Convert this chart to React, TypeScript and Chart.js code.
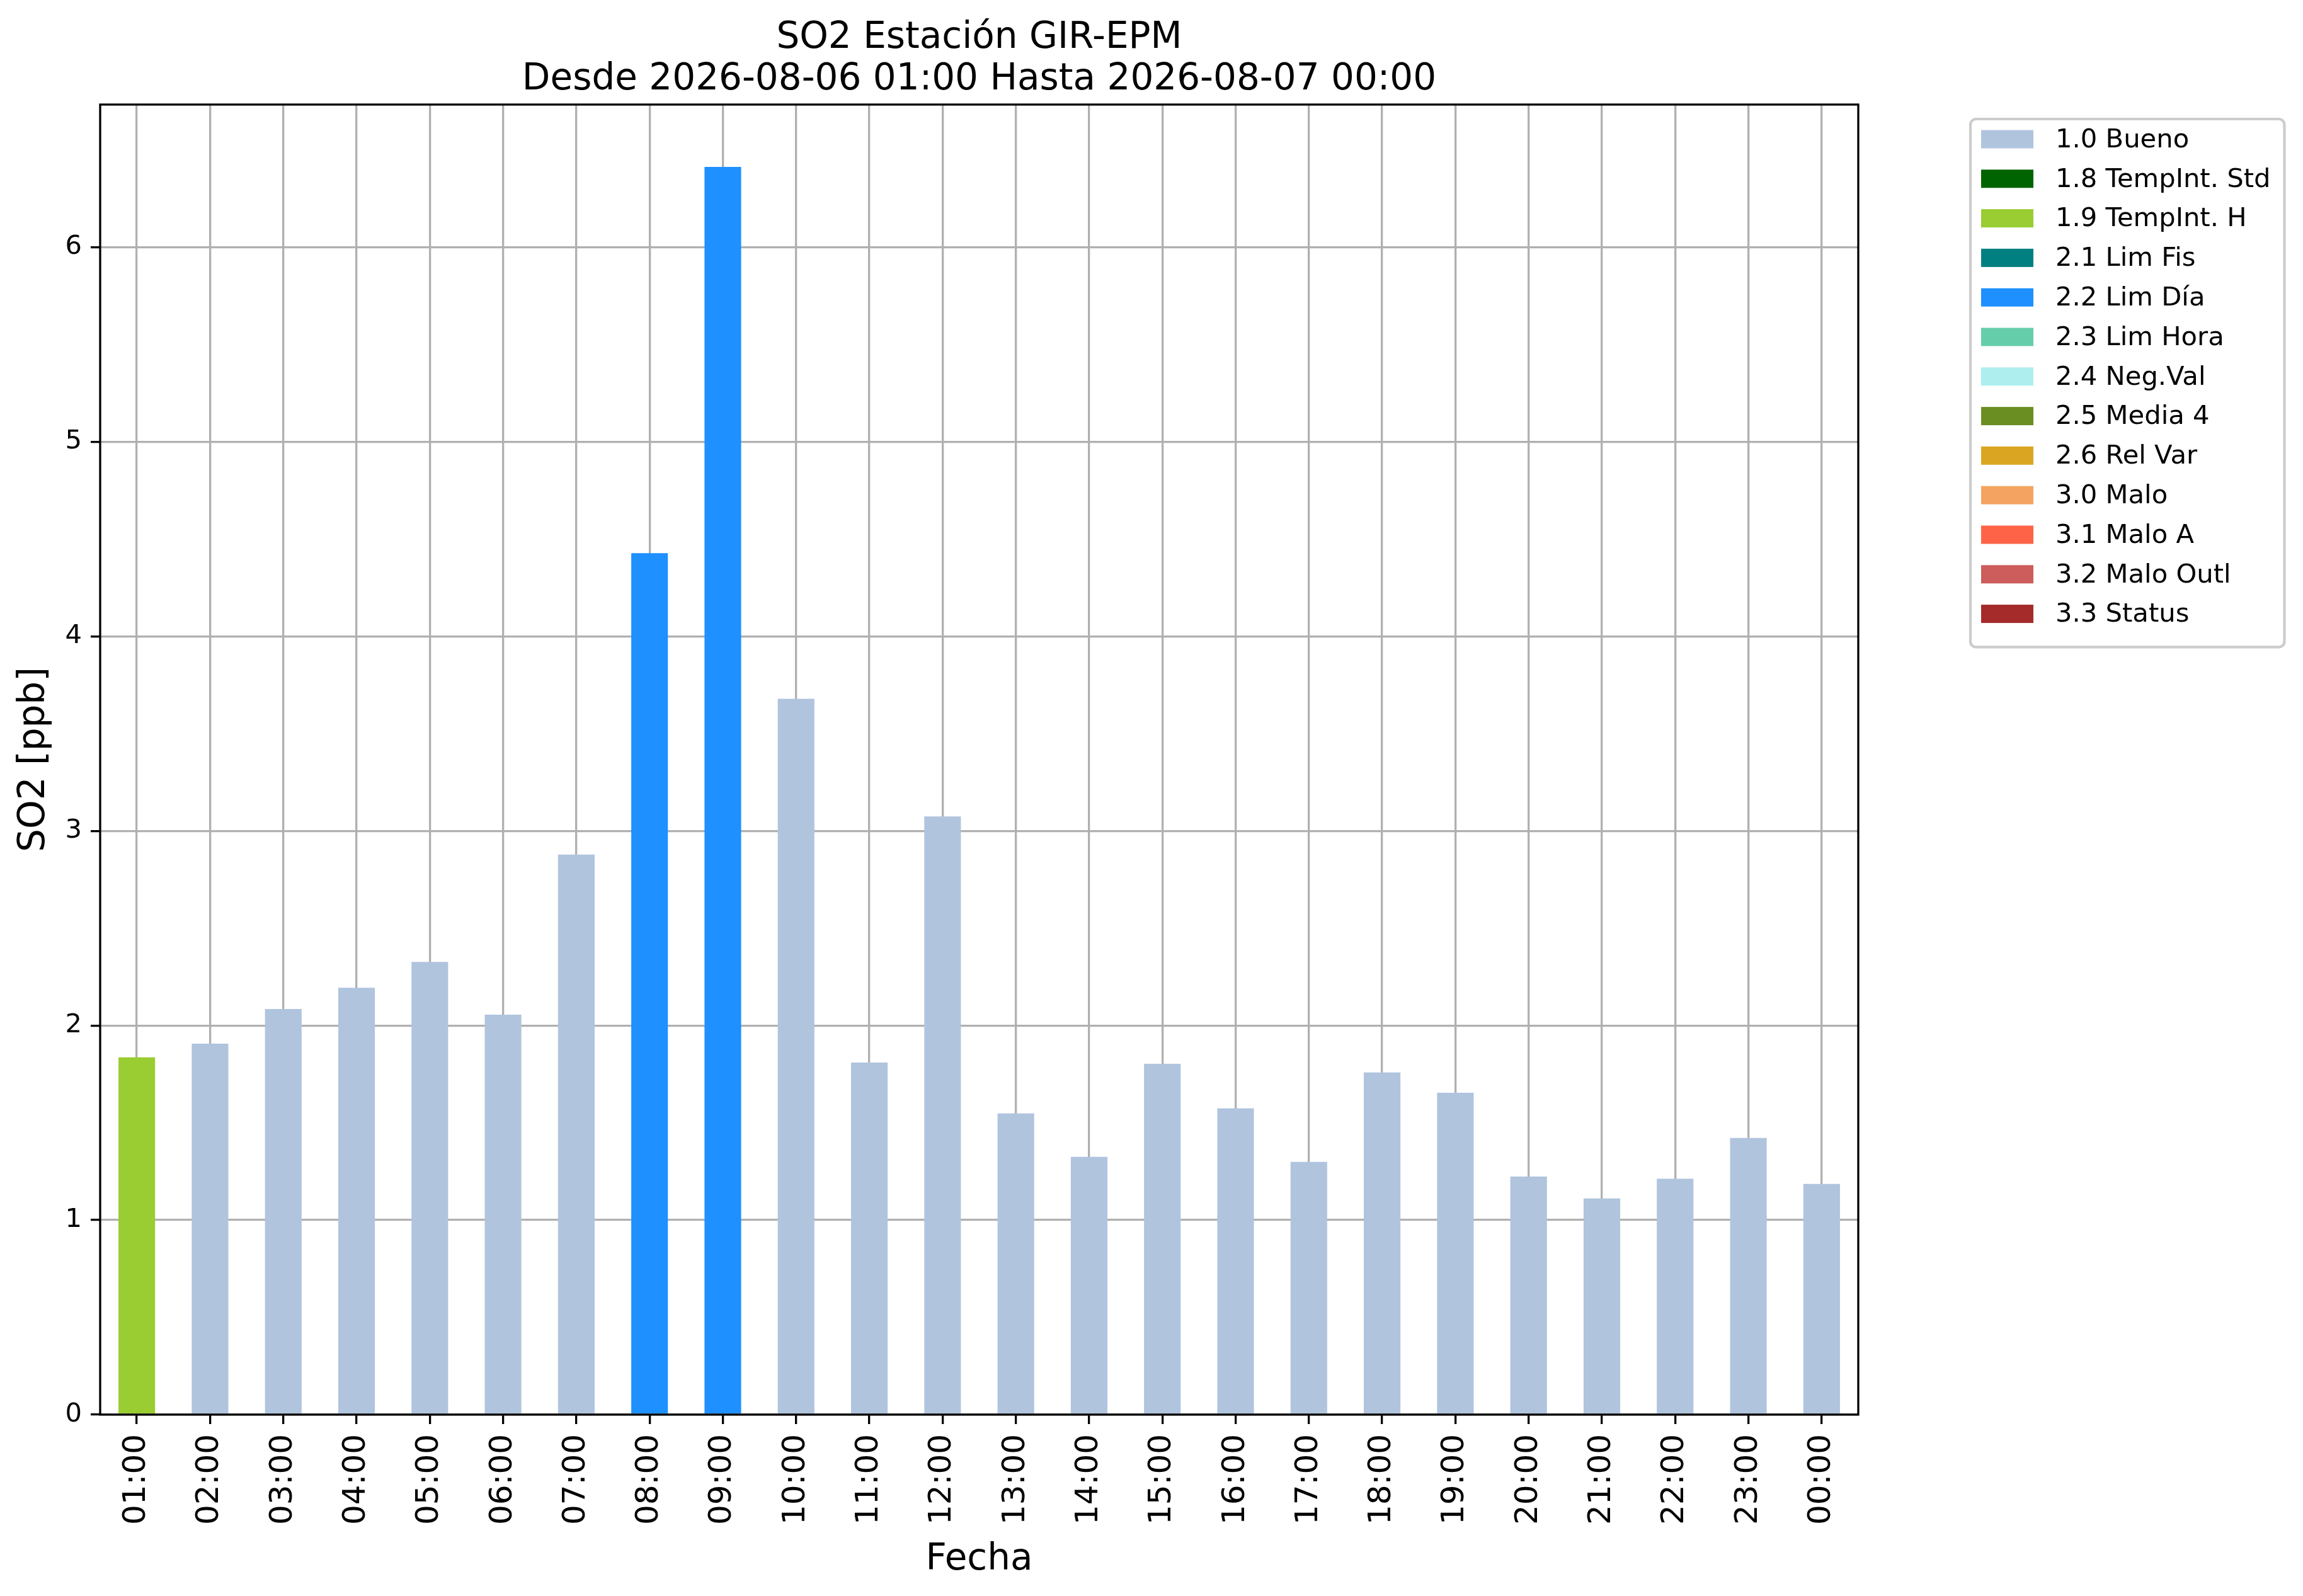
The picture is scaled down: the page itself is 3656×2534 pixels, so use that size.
import { useEffect, useRef } from "react";
import { Chart, registerables } from "chart.js";

Chart.register(...registerables);

const horas = [
  "01:00", "02:00", "03:00", "04:00", "05:00", "06:00", "07:00", "08:00",
  "09:00", "10:00", "11:00", "12:00", "13:00", "14:00", "15:00", "16:00",
  "17:00", "18:00", "19:00", "20:00", "21:00", "22:00", "23:00", "00:00",
];
const valores = [
  1.836, 1.907, 2.085, 2.194, 2.327, 2.056, 2.879, 4.428,
  6.413, 3.679, 1.81, 3.075, 1.548, 1.325, 1.803, 1.574,
  1.299, 1.759, 1.654, 1.224, 1.111, 1.212, 1.422, 1.186,
];
const banderas = [
  "1.9", "1.0", "1.0", "1.0", "1.0", "1.0", "1.0", "2.2",
  "2.2", "1.0", "1.0", "1.0", "1.0", "1.0", "1.0", "1.0",
  "1.0", "1.0", "1.0", "1.0", "1.0", "1.0", "1.0", "1.0",
];
const categorias = [
  "1.0 Bueno", "1.8 TempInt. Std", "1.9 TempInt. H", "2.1 Lim Fis",
  "2.2 Lim Día", "2.3 Lim Hora", "2.4 Neg.Val", "2.5 Media 4",
  "2.6 Rel Var", "3.0 Malo", "3.1 Malo A", "3.2 Malo Outl", "3.3 Status",
];
const colores = [
  "#B0C4DE", "#006400", "#9ACD32", "#008080", "#1E90FF", "#66CDAA", "#AFEEEE",
  "#6B8E23", "#DAA520", "#F4A460", "#FF6347", "#CD5C5C", "#A52A2A",
];
const titulo = ["SO2 Estación GIR-EPM", "Desde 2026-08-06 01:00 Hasta 2026-08-07 00:00"];

const FONT = "'DejaVu Sans', sans-serif";

// title, frame and legend box drawn like matplotlib
const decor = {
  id: "decor",
  afterDraw(chart: any) {
    const { ctx, chartArea } = chart;
    ctx.save();

    // spines
    ctx.strokeStyle = "#000";
    ctx.lineWidth = 3.3;
    ctx.strokeRect(chartArea.left, chartArea.top, chartArea.right - chartArea.left, chartArea.bottom - chartArea.top);

    // title
    const cx = (chartArea.left + chartArea.right) / 2;
    ctx.fillStyle = "#000";
    ctx.font = `58px ${FONT}`;
    ctx.textAlign = "center";
    ctx.textBaseline = "alphabetic";
    ctx.fillText(titulo[0], cx, 76);
    ctx.fillText(titulo[1], cx, 142);

    // legend
    const fs = 41.7;
    ctx.font = `${fs}px ${FONT}`;
    const left = chartArea.right + 178;
    const top = chartArea.top + 23;
    const rowH = 62.8;
    const textX = left + 135;
    const ds = chart.data.datasets;
    let maxW = 0;
    ds.forEach((d: any) => { maxW = Math.max(maxW, ctx.measureText(d.label).width); });
    const w = textX - left + maxW + 22;
    const h = rowH * ds.length + 22;
    ctx.beginPath();
    ctx.roundRect(left, top, w, h, 9);
    ctx.fillStyle = "rgba(255,255,255,0.8)";
    ctx.fill();
    ctx.strokeStyle = "#cccccc";
    ctx.lineWidth = 4.2;
    ctx.stroke();
    ctx.textAlign = "left";
    ctx.textBaseline = "middle";
    ds.forEach((d: any, i: number) => {
      const cy = top + 32 + i * rowH;
      ctx.fillStyle = d.backgroundColor;
      ctx.fillRect(left + 17, cy - 14.5, 83, 29);
      ctx.fillStyle = "#000";
      ctx.fillText(d.label, textX, cy + 2);
    });
    ctx.restore();
  },
};

export default function App() {
  const chartRef = useRef<HTMLCanvasElement>(null);
  const chartInstance = useRef<Chart | null>(null);

  useEffect(() => {
    if (chartRef.current) {
      const ctx = chartRef.current.getContext("2d");
      if (ctx) {
        if (chartInstance.current) {
          chartInstance.current.destroy();
        }

        const datasets = categorias.map((cat, i) => {
          const codigo = cat.split(" ")[0];
          return {
            label: cat,
            data: valores.map((v, j) => (banderas[j] === codigo ? v : null)),
            backgroundColor: colores[i],
            borderWidth: 0,
            barPercentage: 0.5,
            categoryPercentage: 1.0,
          };
        });

        chartInstance.current = new Chart(ctx, {
          type: "bar",
          data: { labels: horas, datasets },
          options: {
            responsive: true,
            maintainAspectRatio: false,
            animation: false,
            layout: { padding: { top: 166, right: 706, left: 0, bottom: 0 } },
            plugins: {
              legend: { display: false },
              title: { display: false },
              tooltip: { enabled: false },
            },
            scales: {
              x: {
                stacked: true,
                z: 1,
                afterFit: (scale: any) => { scale.height = 288; },
                grid: {
                  offset: false,
                  color: "#b0b0b0",
                  lineWidth: 3.3,
                  tickColor: "#000",
                  tickWidth: 3.3,
                  tickLength: 15,
                },
                border: { display: false },
                ticks: {
                  autoSkip: false,
                  maxRotation: 90,
                  minRotation: 90,
                  padding: 16,
                  color: "#000",
                  font: { family: FONT, size: 50 },
                },
                title: {
                  display: true,
                  text: "Fecha",
                  color: "#000",
                  font: { family: FONT, size: 58 },
                  padding: { top: 0, bottom: 22 },
                },
              },
              y: {
                stacked: true,
                z: 1,
                min: 0,
                max: Math.max(...valores) * 1.05,
                afterFit: (scale: any) => { scale.width = 159; },
                grid: {
                  color: "#b0b0b0",
                  lineWidth: 3.3,
                  tickColor: "#000",
                  tickWidth: 3.3,
                  tickLength: 15,
                },
                border: { display: false },
                ticks: {
                  stepSize: 1,
                  includeBounds: false,
                  padding: 14,
                  color: "#000",
                  font: { family: FONT, size: 41.7 },
                },
                title: {
                  display: true,
                  text: "SO2 [ppb]",
                  color: "#000",
                  font: { family: FONT, size: 58 },
                  padding: { top: 20, bottom: 0 },
                },
              },
            },
          },
          plugins: [decor],
        });
      }
    }

    return () => {
      if (chartInstance.current) {
        chartInstance.current.destroy();
        chartInstance.current = null;
      }
    };
  }, []);

  return (
    <div style={{ position: "fixed", left: 0, top: 0, width: 3656, height: 2534, background: "#fff" }}>
      <canvas ref={chartRef}></canvas>
    </div>
  );
}
